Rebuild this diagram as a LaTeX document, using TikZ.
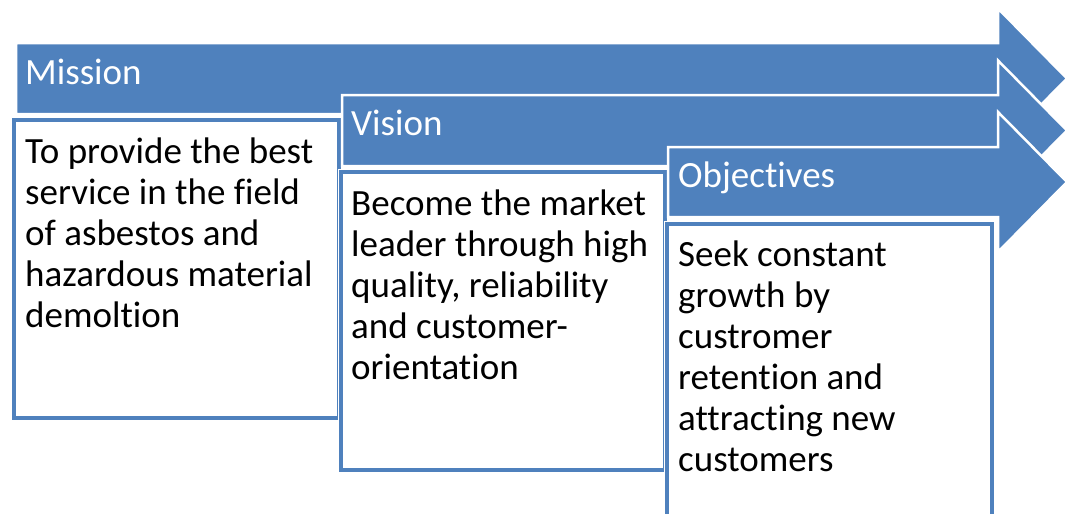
\documentclass[tikz,border=0pt]{standalone}
\usepackage{fontspec}
\setmainfont[Ligatures=NoCommon]{Carlito}
\definecolor{sablue}{HTML}{4F81BD}
\tikzset{
  bigarrow/.style={fill=sablue, draw=white, line width=2.5pt, line join=miter},
  textbox/.style={fill=white, draw=sablue, line width=3.8pt},
  boxhalo/.style={draw=white, line width=7pt},
  titletext/.style={anchor=base west, inner sep=0pt, text=white, font=\fontsize{37}{41}\selectfont},
  bodytext/.style={anchor=north west, inner sep=0pt, text=black, align=left, font=\fontsize{37}{41}\selectfont},
}
\begin{document}
\begin{tikzpicture}[x=1pt, y=-1pt]
\useasboundingbox (0,0) rectangle (1069,514);
\begin{scope}
\clip (0,0) rectangle (1069,514);
% Mission
\draw[bigarrow] (16,43) -- (998,43) -- (998,8.5) -- (1067,78.5) -- (998,148.5) -- (998,114) -- (16,114) -- cycle;
\draw[boxhalo] (14,120) rectangle (339,418);
\draw[textbox] (14,120) rectangle (339,418);
\node[titletext] (missiont) at (25,84) {Mission};
\node[bodytext] (missionb) at (25,138) {To provide the best\\service in the field\\of asbestos and\\hazardous material\\demoltion};
% Vision
\draw[bigarrow] (342,95) -- (998,95) -- (998,60.5) -- (1067,130.5) -- (998,200.5) -- (998,166) -- (342,166) -- cycle;
\draw[boxhalo] (341,172) rectangle (665,470);
\draw[textbox] (341,172) rectangle (665,470);
\node[titletext] (visiont) at (351,135) {Vision};
\node[bodytext] (visionb) at (351,190) {Become the market\\leader through high\\quality, reliability\\and customer-\\orientation};
% Objectives
\draw[bigarrow] (668,147) -- (998,147) -- (998,112) -- (1067,182) -- (998,252) -- (998,217) -- (668,217) -- cycle;
\draw[boxhalo] (667,224) rectangle (992,530);
\draw[textbox] (667,224) rectangle (992,530);
\node[titletext] (objt) at (678,187) {Objectives};
\node[bodytext] (objb) at (678,241) {Seek constant\\growth by\\custromer\\retention and\\attracting new\\customers};
\end{scope}
\end{tikzpicture}
\end{document}
